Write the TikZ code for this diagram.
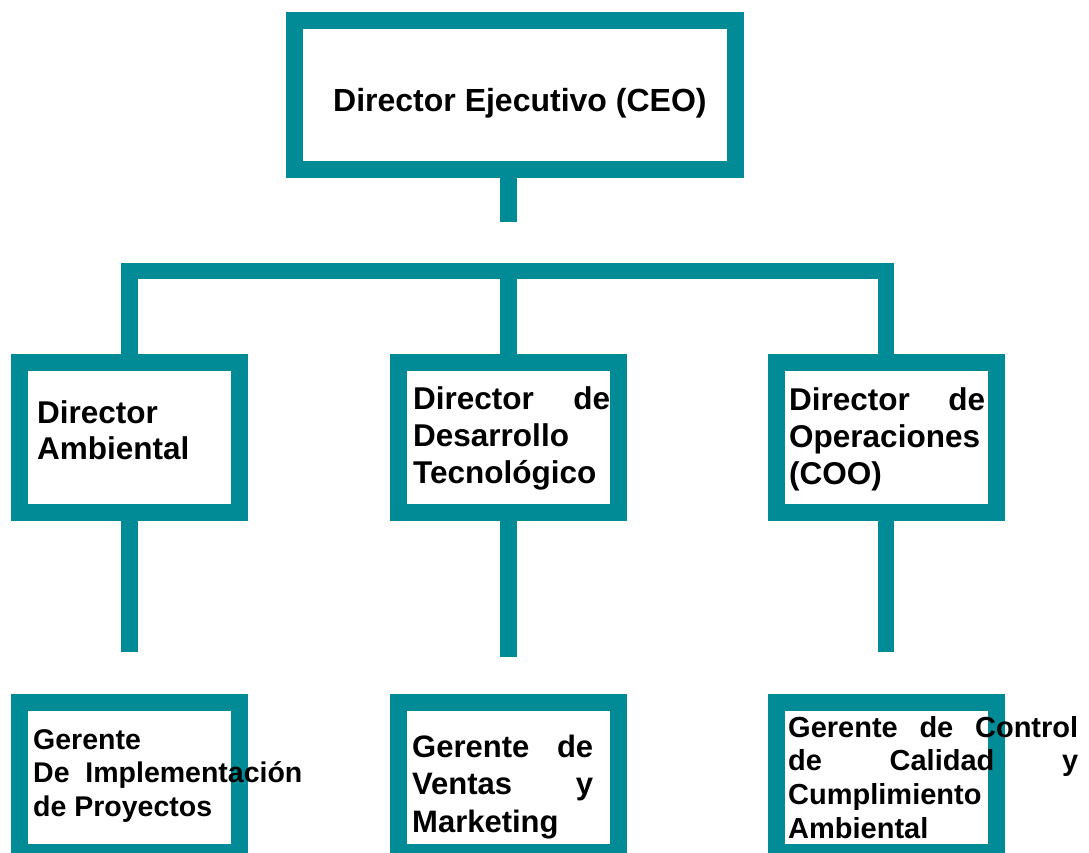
\documentclass[tikz,border=0pt]{standalone}
\usepackage{fontspec}
\setmainfont{Liberation Sans}
\usepackage{xcolor}
\usepackage{tikz}
\usetikzlibrary{positioning}
\definecolor{orgteal}{RGB}{0,139,151}
\setlength{\parindent}{0pt}
\tikzstyle{box}     = [rectangle, draw=orgteal, line width=17pt, fill=white, inner sep=0pt, minimum width=220pt, minimum height=150pt]
\tikzstyle{link}    = [draw=orgteal, line width=16.5pt, line join=miter]
\tikzstyle{boxtext} = [inner sep=0pt, anchor=base west, align=justify]

\begin{document}
\begin{tikzpicture}[x=1pt, y=-1pt]
    \useasboundingbox[fill=white] (0,0) rectangle (1089,853);
    % Row 1 (top): CEO
    \node (ceo) at (515,95.25)   [box, minimum width=441pt, minimum height=149.5pt] {};
    % Row 2: the three directors
    \node (amb) at (129.5,437.5) [box] {};
    \node (tec) at (508.5,437.5) [box] {};
    \node (ope) at (886,437.5)   [box] {};
    % Row 3: the managers (cut off by the page bottom)
    \node (imp) at (129.5,777.5) [box] {};
    \node (ven) at (508.5,777.5) [box] {};
    \node (cal) at (886,777.5)   [box] {};

    % free ends of the connectors
    \coordinate (ceostub) at (508.5,222);
    \coordinate (bar)     at (508.5,271);
    \coordinate (ambend)  at (129.5,652);
    \coordinate (tecend)  at (508.5,657);
    \coordinate (opeend)  at (886,652);

    \draw [link] (ceo.south -| ceostub) -- (ceostub);
    \draw [link] (amb.north) |- (bar) -| (ope.north);
    \draw [link] (bar) -- (tec.north);
    \draw [link] (amb.south) -- (ambend);
    \draw [link] (tec.south) -- (tecend);
    \draw [link] (ope.south) -- (opeend);

    % texts, set on top of the boxes
    \node (ceotxt) at (333,112) [inner sep=0pt, anchor=base west, font=\bfseries\fontsize{32}{38}\selectfont] {Director Ejecutivo (CEO)};
    \node (ambtxt) at (37,423)  [boxtext, text width=190pt, font=\bfseries\fontsize{31.5}{36}\selectfont] {Director\\Ambiental};
    \node (tectxt) at (413,409) [boxtext, text width=197pt, font=\bfseries\fontsize{31.5}{37}\selectfont] {Director \hfill de\\Desarrollo\\Tecnológico};
    \node (opetxt) at (789,410) [boxtext, text width=196pt, font=\bfseries\fontsize{31.5}{37}\selectfont] {Director \hfill de\\Operaciones\\(COO)};
    \node (imptxt) at (33,749)  [boxtext, text width=280pt, font=\bfseries\fontsize{28.5}{33.5}\selectfont] {Gerente\\De~ Implementación\\de Proyectos};
    \node (ventxt) at (412,757) [boxtext, text width=181pt, font=\bfseries\fontsize{31}{37.5}\selectfont] {Gerente \hfill de\\Ventas \hfill y\\Marketing};
    \node (caltxt) at (788,737) [boxtext, text width=290pt, font=\bfseries\fontsize{29}{33.7}\selectfont] {Gerente \hfill de \hfill Control\\de \hfill Calidad \hfill y\\Cumplimiento\\Ambiental};
\end{tikzpicture}
\end{document}
